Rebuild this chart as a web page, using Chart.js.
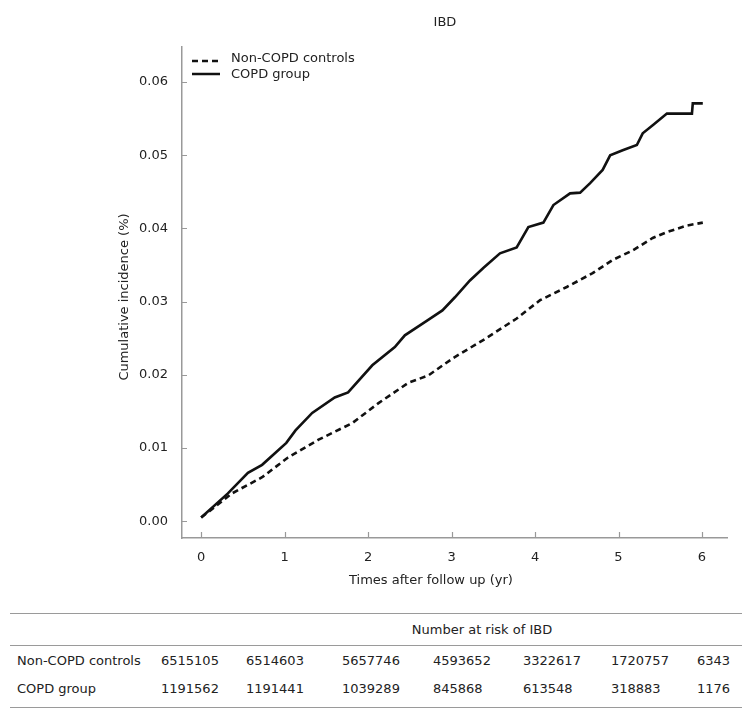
<!DOCTYPE html>
<html>
<head>
<meta charset="utf-8">
<title>IBD cumulative incidence</title>
<script src="https://cdn.jsdelivr.net/npm/chart.js@4.4.1/dist/chart.umd.min.js"></script>
<style>
    body { margin: 0; background: #fff; font-family: "DejaVu Sans", sans-serif; color: #222; }
    #wrap { position: relative; width: 756px; height: 717px; overflow: hidden; }
    #chartBox { position: absolute; left: 0; top: 0; width: 756px; height: 600px; }
    .txt { position: absolute; font-size: 13px; line-height: 16px; white-space: nowrap; }
    .rule { position: absolute; left: 10px; width: 732px; height: 0; border-top: 1.5px solid #9a9a9a; }
    .key { position: absolute; left: 190px; width: 34px; height: 8px; }
</style>
</head>
<body>
<div id="wrap">
    <div id="chartBox"><canvas id="kmChart"></canvas></div>
    <div class="txt" style="left:0;width:890px;top:14px;text-align:center;">IBD</div>
    <div class="txt" style="left:0;width:862px;top:572px;text-align:center;">Times after follow up (yr)</div>
    <div class="txt" style="left:24px;width:200px;top:289px;text-align:center;transform:rotate(-90deg);">Cumulative incidence (%)</div>

    <svg class="key" style="top:57px;"><line x1="2" y1="4" x2="30" y2="4" stroke="#111" stroke-width="2.5" stroke-dasharray="6 4"/></svg>
    <svg class="key" style="top:70px;"><line x1="2" y1="4" x2="30" y2="4" stroke="#111" stroke-width="2.5"/></svg>
    <div class="txt" style="left:231px;top:50px;">Non-COPD controls</div>
    <div class="txt" style="left:231px;top:66px;">COPD group</div>

    <div id="riskTable"></div>
</div>

<script>
// Follow-up time (yr) and cumulative incidence
const controlTimes = [0, 0.37, 0.73, 1.04, 1.40, 1.81, 2.12, 2.48, 2.72, 3.02, 3.40, 3.78, 4.06, 4.38, 4.69, 4.93, 5.17, 5.41, 5.58, 5.82, 6.01];
const controlIncidence = [0.0005, 0.0038, 0.0060, 0.0087, 0.0111, 0.0134, 0.0161, 0.0189, 0.0199, 0.0223, 0.0249, 0.0277, 0.0302, 0.0320, 0.0339, 0.0357, 0.0370, 0.0387, 0.0395, 0.0404, 0.0408];

const copdTimes = [0, 0.32, 0.56, 0.73, 1.02, 1.13, 1.33, 1.60, 1.76, 2.05, 2.32, 2.44, 2.72, 2.89, 3.04, 3.22, 3.38, 3.58, 3.78, 3.92, 4.10, 4.22, 4.42, 4.54, 4.66, 4.81, 4.90, 5.05, 5.22, 5.29, 5.41, 5.58, 5.88, 5.89, 6.01];
const copdIncidence = [0.0005, 0.0038, 0.0066, 0.0077, 0.0107, 0.0124, 0.0148, 0.0169, 0.0176, 0.0213, 0.0238, 0.0254, 0.0275, 0.0288, 0.0306, 0.0329, 0.0346, 0.0366, 0.0374, 0.0402, 0.0408, 0.0432, 0.0448, 0.0449, 0.0462, 0.0480, 0.0500, 0.0507, 0.0514, 0.0530, 0.0541, 0.0557, 0.0557, 0.0571, 0.0571];

// Axis ticks
const xTicks = [0, 1, 2, 3, 4, 5, 6];
const yTicks = [0, 0.01, 0.02, 0.03, 0.04, 0.05, 0.06];

// Number at risk table
const riskGroups = ['Non-COPD controls', 'COPD group'];
const controlsAtRisk = [6515105, 6514603, 5657746, 4593652, 3322617, 1720757, 6343];
const copdAtRisk = [1191562, 1191441, 1039289, 845868, 613548, 318883, 1176];

const axisColor = '#999';

// Draw the tick marks pointing into the plot area
const innerTicks = {
    id: 'innerTicks',
    afterDraw(chart) {
        const { ctx, chartArea } = chart;
        const { x, y } = chart.scales;
        ctx.save();
        ctx.strokeStyle = axisColor;
        ctx.lineWidth = 1.2;
        ctx.beginPath();
        xTicks.forEach(v => {
            const px = Math.round(x.getPixelForValue(v)) + 0.5;
            ctx.moveTo(px, chartArea.bottom);
            ctx.lineTo(px, chartArea.bottom - 6);
        });
        yTicks.forEach(v => {
            const py = Math.round(y.getPixelForValue(v)) + 0.5;
            ctx.moveTo(chartArea.left, py);
            ctx.lineTo(chartArea.left + 5, py);
        });
        ctx.stroke();
        ctx.restore();
    }
};

const toPoints = (xs, ys) => xs.map((t, i) => ({ x: t, y: ys[i] }));

document.addEventListener('DOMContentLoaded', () => {
    Chart.defaults.font.family = '"DejaVu Sans", sans-serif';
    Chart.defaults.font.size = 13;
    Chart.defaults.color = '#222';

    const ctx = document.getElementById('kmChart').getContext('2d');
    new Chart(ctx, {
        type: 'scatter',
        data: {
            datasets: [{
                label: 'Non-COPD controls',
                data: toPoints(controlTimes, controlIncidence),
                showLine: true,
                borderColor: '#111',
                borderWidth: 2.6,
                borderDash: [6, 4],
                pointRadius: 0,
                tension: 0
            }, {
                label: 'COPD group',
                data: toPoints(copdTimes, copdIncidence),
                showLine: true,
                borderColor: '#111',
                borderWidth: 2.6,
                pointRadius: 0,
                tension: 0
            }]
        },
        options: {
            responsive: true,
            maintainAspectRatio: false,
            animation: false,
            layout: { padding: { left: 0, top: 47, right: 29, bottom: 0 } },
            plugins: {
                legend: { display: false },
                tooltip: { enabled: false }
            },
            scales: {
                x: {
                    type: 'linear',
                    min: -0.23,
                    max: 6.3,
                    afterBuildTicks: s => { s.ticks = xTicks.map(v => ({ value: v })); },
                    afterFit: s => { s.height = 62; },
                    grid: { display: false, drawTicks: false },
                    border: { display: true, color: axisColor, width: 1.5 },
                    ticks: { padding: 12, maxRotation: 0, callback: v => String(v) }
                },
                y: {
                    type: 'linear',
                    min: -0.0023,
                    max: 0.0648,
                    afterBuildTicks: s => { s.ticks = yTicks.map(v => ({ value: v })); },
                    afterFit: s => { s.width = 182; },
                    grid: { display: false, drawTicks: false },
                    border: { display: true, color: axisColor, width: 1.5 },
                    ticks: { padding: 14, callback: v => v.toFixed(2) }
                }
            }
        },
        plugins: [innerTicks]
    });

    // Number at risk table below the chart
    const colLeft = [161, 246, 342, 433, 523, 611, 697];
    const rows = [controlsAtRisk, copdAtRisk];
    let html = '<div class="rule" style="top:613px;"></div>' +
        '<div class="txt" style="left:0;width:964px;top:622px;text-align:center;">Number at risk of IBD</div>' +
        '<div class="rule" style="top:645px;"></div>';
    rows.forEach((row, r) => {
        const top = 653 + r * 28;
        html += `<div class="txt" style="left:17px;top:${top}px;">${riskGroups[r]}</div>`;
        row.forEach((n, c) => {
            html += `<div class="txt" style="left:${colLeft[c]}px;top:${top}px;">${n}</div>`;
        });
    });
    html += '<div class="rule" style="top:707px;"></div>';
    document.getElementById('riskTable').innerHTML = html;
});
</script>
</body>
</html>
